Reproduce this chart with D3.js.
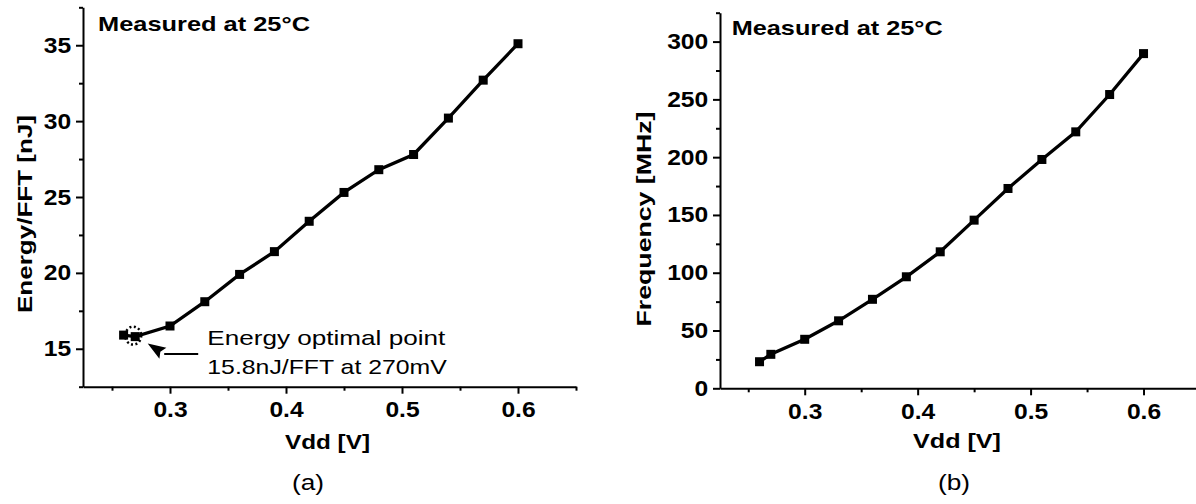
<!DOCTYPE html>
<html>
<head>
<meta charset="utf-8">
<script src="https://cdn.jsdelivr.net/npm/d3@7"></script>
<style>
  body { margin: 0; background: #fff; }
  svg { display: block; }
  text { font-family: "Liberation Sans", Arial, sans-serif; fill: #000; }
  .bold { font-weight: bold; }
</style>
</head>
<body>
<svg width="1196" height="504"></svg>
<script>
const vdd = [0.26, 0.27, 0.30, 0.33, 0.36, 0.39, 0.42, 0.45, 0.48, 0.51, 0.54, 0.57, 0.60];
const energy = [15.9, 15.8, 16.5, 18.1, 19.9, 21.4, 23.4, 25.3, 26.8, 27.8, 30.2, 32.7, 35.1];
const freq = [23.0, 29.4, 42.4, 58.4, 77.0, 96.5, 118.1, 145.5, 172.9, 198.0, 221.9, 254.2, 289.6];

const vddTicks = [0.3, 0.4, 0.5, 0.6];
const vddMinor = [0.25, 0.35, 0.45, 0.55, 0.65];
const energyTicks = [15, 20, 25, 30, 35];
const energyMinor = [12.5, 17.5, 22.5, 27.5, 32.5, 37.5];
const freqTicks = [0, 50, 100, 150, 200, 250, 300];
const freqMinor = [25, 75, 125, 175, 225, 275, 325];

const svg = d3.select('svg');
const SX = 1.12; // glyphs in the figure are wider than Arial

function chart(opt) {
  const x = d3.scaleLinear().domain([0.225, 0.65]).range(opt.xr);
  const y = d3.scaleLinear().domain(opt.yd).range(opt.yr);
  const g = svg.append('g');

  g.append('g')
    .attr('transform', `translate(0,${opt.yr[0]})`)
    .call(d3.axisBottom(x).tickValues(vddTicks).tickSize(7).tickPadding(8)
      .tickSizeOuter(0).tickFormat(d3.format('.1f')));
  g.append('g')
    .attr('transform', `translate(0,${opt.yr[0]})`)
    .call(d3.axisBottom(x).tickValues(vddMinor).tickSize(4).tickFormat(''))
    .call((s) => s.select('.domain').remove());

  g.append('g')
    .attr('transform', `translate(${opt.xr[0]},0)`)
    .call(d3.axisLeft(y).tickValues(opt.ticks).tickSize(7).tickPadding(3.5)
      .tickSizeOuter(0));
  g.append('g')
    .attr('transform', `translate(${opt.xr[0]},0)`)
    .call(d3.axisLeft(y).tickValues(opt.minor).tickSize(4).tickFormat(''))
    .call((s) => s.select('.domain').remove());

  g.selectAll('.domain, .tick line').attr('stroke', '#000').attr('stroke-width', 2);
  g.selectAll('.tick text')
    .attr('class', 'bold')
    .style('font-size', '22px')
    .attr('transform', `scale(${SX},1)`);

  const line = d3.line().x((d, i) => x(vdd[i])).y((d) => y(d));
  g.append('path')
    .datum(opt.vals)
    .attr('fill', 'none')
    .attr('stroke', '#000')
    .attr('stroke-width', 3.3)
    .attr('d', line);

  g.selectAll('rect.pt')
    .data(opt.vals)
    .join('rect')
    .attr('class', 'pt')
    .attr('x', (d, i) => x(vdd[i]) - 4.5)
    .attr('y', (d) => y(d) - 4.5)
    .attr('width', 9)
    .attr('height', 9)
    .attr('fill', '#000');

  return { g, x, y };
}

function label(x, y, str, len, opts = {}) {
  const t = svg.append('text')
    .attr('x', x)
    .attr('y', y)
    .attr('textLength', len)
    .attr('lengthAdjust', 'spacingAndGlyphs')
    .style('font-size', (opts.size || 21) + 'px')
    .text(str);
  if (opts.bold) t.attr('class', 'bold');
  if (opts.anchor) t.attr('text-anchor', opts.anchor);
  if (opts.rotate) t.attr('transform', `rotate(-90,${x},${y})`);
  return t;
}

// (a) energy
const a = chart({
  xr: [83, 576], yd: [12.5, 37.5], yr: [386.7, 7.3],
  ticks: energyTicks, minor: energyMinor, vals: energy,
});
// (b) frequency
chart({
  xr: [720, 1200], yd: [0, 325], yr: [388.3, 12.7],
  ticks: freqTicks, minor: freqMinor, vals: freq,
});

label(98, 30.5, 'Measured at 25°C', 212, { bold: true });
label(731.7, 35, 'Measured at 25°C', 211, { bold: true });
label(31.5, 214, 'Energy/FFT [nJ]', 198, { bold: true, rotate: true, anchor: 'middle' });
label(651, 219, 'Frequency [MHz]', 215, { bold: true, rotate: true, anchor: 'middle' });
label(327.5, 449, 'Vdd [V]', 85, { bold: true, anchor: 'middle' });
label(957, 448, 'Vdd [V]', 88, { bold: true, anchor: 'middle' });
label(308, 489.5, '(a)', 32, { size: 22, anchor: 'middle' });
label(954, 489.5, '(b)', 32, { size: 22, anchor: 'middle' });

// annotation of energy optimal point
const px = a.x(0.27), py = a.y(15.8);
a.g.append('ellipse')
  .attr('cx', px - 2)
  .attr('cy', py - 1)
  .attr('rx', 8)
  .attr('ry', 9)
  .attr('fill', 'none')
  .attr('stroke', '#000')
  .attr('stroke-width', 2.5)
  .attr('stroke-dasharray', '2,2.5');

const tip = [px + 12.5, py + 7];
const base = [px + 29, py + 17.5];
const ang = Math.atan2(tip[1] - base[1], tip[0] - base[0]);
a.g.append('path')
  .attr('d', d3.line()([[px + 63, py + 17.5], base]))
  .attr('fill', 'none')
  .attr('stroke', '#000')
  .attr('stroke-width', 2);
a.g.append('path')
  .attr('transform', `translate(${tip[0]},${tip[1]}) rotate(${ang * 180 / Math.PI})`)
  .attr('d', 'M0,0 L-18,-6.5 L-15,0 L-18,6.5 Z')
  .attr('fill', '#000');

label(207.3, 345, 'Energy optimal point', 238);
label(207.3, 374, '15.8nJ/FFT at 270mV', 239.5);
</script>
</body>
</html>
